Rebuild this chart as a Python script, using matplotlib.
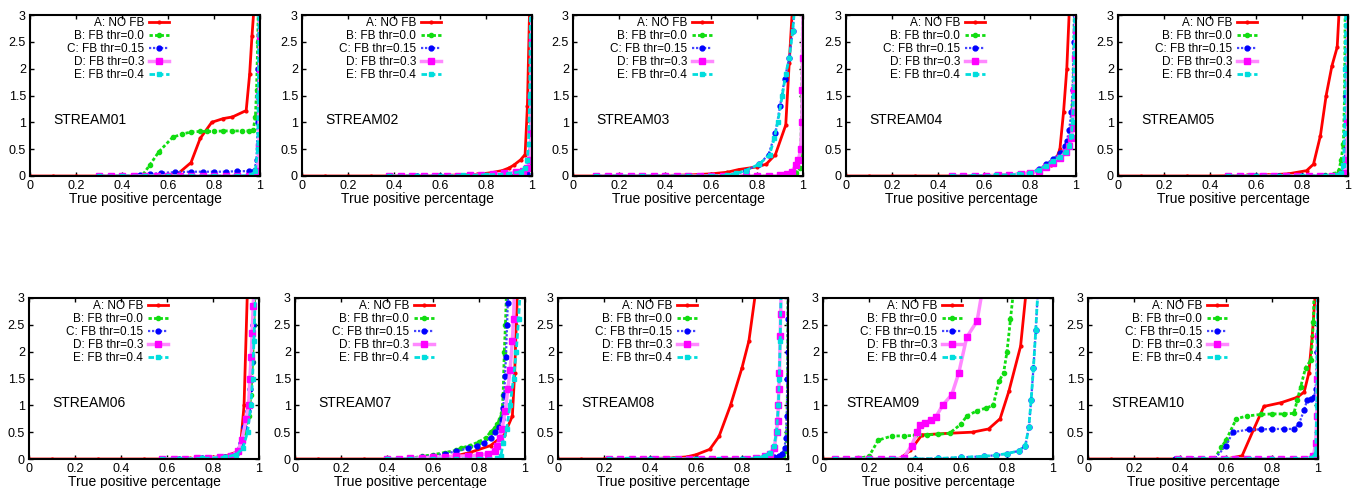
import matplotlib
matplotlib.use("Agg")
import matplotlib.pyplot as plt
from matplotlib.ticker import FuncFormatter

plt.rcParams['font.family'] = ['Liberation Sans', 'DejaVu Sans']

labels = ["A: NO FB", "B: FB thr=0.0", "C: FB thr=0.15", "D: FB thr=0.3", "E: FB thr=0.4"]
names = ["STREAM01", "STREAM02", "STREAM03", "STREAM04", "STREAM05",
         "STREAM06", "STREAM07", "STREAM08", "STREAM09", "STREAM10"]
xticks = [0, 0.2, 0.4, 0.6, 0.8, 1]
yticks = [0, 0.5, 1, 1.5, 2, 2.5, 3]

# STREAM01
s01_a = [(0,0),(0.1,0),(0.2,0),(0.3,0),(0.4,0),(0.5,0),(0.58,0),(0.64,0.03),(0.7,0.25),(0.74,0.7),(0.79,1.0),(0.84,1.07),(0.88,1.1),(0.94,1.22),(0.955,1.9),(0.965,2.6),(0.975,3.2)]
s01_b = [(0.3,0),(0.4,0),(0.45,0),(0.49,0.02),(0.52,0.2),(0.56,0.45),(0.62,0.72),(0.66,0.78),(0.7,0.82),(0.74,0.83),(0.77,0.83),(0.8,0.83),(0.84,0.84),(0.88,0.84),(0.92,0.84),(0.95,0.84),(0.97,0.85),(0.98,1.1),(0.985,1.6),(0.99,2.5),(0.993,3.2)]
s01_c = [(0.3,0),(0.4,0),(0.48,0.01),(0.52,0.03),(0.57,0.06),(0.63,0.07),(0.7,0.08),(0.75,0.08),(0.8,0.08),(0.85,0.08),(0.9,0.09),(0.95,0.09),(0.975,0.1),(0.985,0.3),(0.99,1.0),(0.993,2.0),(0.995,3.2)]
s01_d = [(0.3,0),(0.35,0),(0.4,0),(0.45,0),(0.5,0),(0.55,0),(0.6,0),(0.65,0),(0.7,0),(0.75,0),(0.8,0),(0.85,0),(0.9,0),(0.95,0),(0.98,0.01),(0.99,0.1),(0.995,0.55),(0.997,1.5),(0.998,2.0),(0.999,2.6),(1.0,3.2)]
s01_e = [(0.3,0),(0.4,0),(0.5,0),(0.6,0),(0.7,0),(0.8,0),(0.9,0),(0.96,0.01),(0.98,0.1),(0.99,0.5),(0.993,1.5),(0.996,3.2)]

# STREAM02
s02_a = [(0,0),(0.1,0),(0.2,0),(0.3,0),(0.4,0),(0.5,0),(0.6,0.01),(0.7,0.02),(0.76,0.03),(0.82,0.06),(0.87,0.1),(0.9,0.15),(0.92,0.2),(0.95,0.3),(0.97,0.4),(0.98,1.3),(0.99,3.2)]
s02_b = [(0.38,0),(0.5,0),(0.6,0),(0.7,0),(0.8,0.01),(0.9,0.02),(0.96,0.03),(0.98,0.05),(0.99,0.2),(0.995,1.0),(0.998,3.2)]
s02_c = [(0.38,0),(0.5,0),(0.6,0),(0.7,0),(0.8,0),(0.9,0.01),(0.96,0.02),(0.98,0.04),(0.99,0.15),(0.995,0.8),(0.998,3.2)]
s02_d = [(0.38,0),(0.43,0),(0.48,0),(0.53,0),(0.58,0),(0.63,0),(0.68,0),(0.73,0.01),(0.78,0.02),(0.83,0.03),(0.88,0.05),(0.93,0.07),(0.96,0.1),(0.98,0.15),(0.99,0.3),(0.995,0.8),(0.997,1.5),(0.998,2.5),(1.0,3.2)]
s02_e = [(0.38,0),(0.5,0),(0.6,0),(0.7,0.01),(0.8,0.02),(0.9,0.04),(0.95,0.08),(0.97,0.15),(0.98,0.3),(0.985,0.6),(0.99,1.5),(0.993,3.2)]

# STREAM03
s03_a = [(0,0),(0.1,0),(0.2,0),(0.3,0),(0.4,0.01),(0.51,0.02),(0.6,0.04),(0.67,0.07),(0.72,0.12),(0.8,0.17),(0.84,0.22),(0.88,0.4),(0.925,0.95),(0.94,2.1),(0.955,3.2)]
s03_b = [(0.1,0),(0.3,0),(0.5,0),(0.7,0),(0.85,0),(0.93,0.01),(0.97,0.05),(0.985,0.15),(0.99,0.4),(0.995,1.5),(0.998,3.2)]
s03_c = [(0.1,0),(0.3,0),(0.5,0),(0.6,0),(0.7,0.02),(0.75,0.1),(0.81,0.22),(0.85,0.4),(0.88,0.8),(0.9,1.3),(0.92,1.8),(0.94,2.2),(0.955,2.7),(0.965,3.2)]
s03_d = [(0.1,0),(0.15,0),(0.2,0),(0.25,0),(0.3,0),(0.35,0),(0.4,0),(0.45,0),(0.5,0),(0.55,0),(0.6,0),(0.65,0),(0.7,0),(0.75,0),(0.8,0),(0.85,0),(0.9,0.01),(0.93,0.03),(0.95,0.08),(0.97,0.2),(0.98,0.3),(0.99,0.5),(0.995,1.0),(0.997,1.6),(0.998,2.2),(1.0,3.2)]
s03_e = [(0.1,0),(0.3,0),(0.5,0),(0.6,0),(0.67,0.01),(0.71,0.05),(0.75,0.1),(0.81,0.22),(0.855,0.4),(0.875,0.7),(0.89,1.0),(0.91,1.5),(0.925,1.9),(0.94,2.2),(0.955,2.7),(0.965,3.2)]

# STREAM04
s04_a = [(0,0),(0.1,0),(0.2,0),(0.3,0),(0.4,0),(0.5,0),(0.6,0.01),(0.71,0.02),(0.8,0.06),(0.845,0.1),(0.89,0.2),(0.917,0.35),(0.93,0.5),(0.946,1.2),(0.96,2.0),(0.972,3.2)]
s04_b = [(0.46,0),(0.55,0),(0.65,0.01),(0.75,0.03),(0.8,0.05),(0.84,0.12),(0.87,0.2),(0.9,0.3),(0.93,0.4),(0.955,0.5),(0.97,0.65),(0.98,0.9),(0.985,1.3),(0.99,2.0),(0.993,3.2)]
s04_c = [(0.46,0),(0.55,0),(0.65,0.01),(0.75,0.03),(0.8,0.06),(0.84,0.13),(0.87,0.22),(0.9,0.32),(0.93,0.42),(0.95,0.55),(0.96,0.65),(0.97,0.85),(0.98,1.2),(0.985,1.6),(0.99,2.5),(0.993,3.2)]
s04_d = [(0.46,0),(0.51,0),(0.56,0),(0.61,0),(0.66,0.01),(0.71,0.02),(0.76,0.03),(0.8,0.05),(0.84,0.1),(0.87,0.16),(0.9,0.25),(0.93,0.33),(0.955,0.45),(0.97,0.55),(0.98,0.7),(0.985,0.9),(0.99,1.2),(0.993,1.6),(0.996,2.2),(0.998,2.7),(1.0,3.2)]
s04_e = [(0.46,0),(0.55,0),(0.65,0.01),(0.75,0.03),(0.8,0.05),(0.84,0.12),(0.87,0.19),(0.9,0.28),(0.93,0.36),(0.955,0.45),(0.97,0.55),(0.98,0.75),(0.985,1.0),(0.99,1.5),(0.995,3.2)]

# STREAM05
s05_a = [(0,0),(0.1,0),(0.2,0),(0.3,0),(0.4,0),(0.5,0.005),(0.56,0.01),(0.65,0.02),(0.74,0.04),(0.82,0.1),(0.85,0.22),(0.88,0.75),(0.905,1.5),(0.93,2.05),(0.953,2.4),(0.963,3.2)]
s05_b = [(0.48,0),(0.6,0),(0.7,0),(0.8,0),(0.9,0.01),(0.94,0.03),(0.96,0.1),(0.97,0.3),(0.98,0.6),(0.985,1.5),(0.988,3.2)]
s05_c = [(0.48,0),(0.6,0),(0.7,0),(0.8,0),(0.9,0),(0.96,0.01),(0.98,0.05),(0.99,0.5),(0.993,1.5),(0.995,3.2)]
s05_d = [(0.48,0),(0.53,0),(0.58,0),(0.63,0),(0.68,0),(0.73,0),(0.78,0),(0.83,0),(0.88,0),(0.93,0),(0.97,0.01),(0.99,0.05),(0.995,0.3),(0.997,1.0),(0.998,2.0),(1.0,3.2)]
s05_e = [(0.48,0),(0.6,0),(0.7,0),(0.8,0),(0.9,0),(0.95,0.01),(0.97,0.05),(0.98,0.2),(0.985,0.8),(0.988,2.0),(0.99,3.2)]

# STREAM06
s06_a = [(0,0),(0.1,0),(0.2,0),(0.3,0),(0.4,0),(0.5,0),(0.6,0),(0.7,0.01),(0.8,0.03),(0.85,0.05),(0.91,0.14),(0.92,0.26),(0.935,1.0),(0.95,3.2)]
s06_b = [(0.58,0),(0.65,0),(0.75,0.01),(0.85,0.03),(0.9,0.1),(0.92,0.25),(0.94,0.5),(0.955,0.8),(0.965,1.2),(0.972,1.8),(0.978,2.5),(0.982,3.2)]
s06_c = [(0.58,0),(0.65,0),(0.75,0.01),(0.85,0.03),(0.9,0.1),(0.92,0.3),(0.935,0.6),(0.95,0.9),(0.96,1.3),(0.968,1.8),(0.975,2.5),(0.98,3.2)]
s06_d = [(0.58,0),(0.63,0),(0.68,0),(0.73,0.01),(0.78,0.02),(0.83,0.03),(0.88,0.06),(0.91,0.15),(0.925,0.35),(0.945,0.75),(0.955,1.0),(0.96,1.5),(0.966,1.9),(0.97,2.35),(0.975,2.85),(0.978,3.2)]
s06_e = [(0.58,0),(0.65,0),(0.75,0.01),(0.85,0.03),(0.9,0.08),(0.93,0.2),(0.95,0.5),(0.965,1.0),(0.972,1.5),(0.978,2.2),(0.985,3.2)]

# STREAM07
s07_a = [(0,0),(0.1,0),(0.2,0),(0.3,0),(0.4,0),(0.5,0.005),(0.62,0.02),(0.7,0.06),(0.76,0.12),(0.85,0.25),(0.91,0.45),(0.945,0.8),(0.955,1.6),(0.962,2.5),(0.968,3.2)]
s07_b = [(0.4,0),(0.5,0.01),(0.55,0.05),(0.6,0.08),(0.65,0.12),(0.7,0.16),(0.72,0.2),(0.76,0.25),(0.8,0.32),(0.83,0.4),(0.85,0.5),(0.87,0.58),(0.88,0.65),(0.89,0.75),(0.9,0.85),(0.905,1.2),(0.91,2.0),(0.915,2.5),(0.92,3.2)]
s07_c = [(0.4,0),(0.5,0.01),(0.55,0.03),(0.6,0.06),(0.65,0.1),(0.7,0.14),(0.75,0.2),(0.79,0.25),(0.82,0.3),(0.85,0.4),(0.87,0.5),(0.885,0.6),(0.9,0.75),(0.905,0.95),(0.91,1.2),(0.913,1.55),(0.917,1.9),(0.922,2.5),(0.925,2.9),(0.928,3.2)]
s07_d = [(0.4,0),(0.45,0),(0.5,0.01),(0.55,0.02),(0.6,0.03),(0.65,0.04),(0.7,0.05),(0.75,0.06),(0.8,0.07),(0.84,0.1),(0.87,0.15),(0.88,0.25),(0.89,0.4),(0.9,0.55),(0.915,0.9),(0.925,1.3),(0.935,1.65),(0.945,2.2),(0.95,2.6),(0.955,3.2)]
s07_e = [(0.4,0),(0.5,0),(0.6,0),(0.7,0),(0.8,0),(0.88,0.01),(0.895,0.05),(0.905,0.3),(0.92,0.55),(0.935,1.0),(0.95,1.5),(0.962,2.0),(0.972,2.6),(0.98,3.2)]

# STREAM08
s08_a = [(0,0),(0.1,0),(0.2,0),(0.3,0),(0.4,0.01),(0.5,0.02),(0.56,0.04),(0.6,0.08),(0.66,0.18),(0.7,0.42),(0.75,1.0),(0.8,1.7),(0.83,2.2),(0.862,3.2)]
s08_b = [(0.22,0),(0.4,0),(0.6,0),(0.8,0),(0.9,0.01),(0.95,0.02),(0.98,0.05),(0.99,0.15),(0.995,0.5),(0.998,1.5),(1.0,3.2)]
s08_c = [(0.22,0),(0.4,0),(0.6,0),(0.8,0),(0.9,0.01),(0.94,0.04),(0.96,0.06),(0.975,0.1),(0.985,0.2),(0.99,0.4),(0.995,0.8),(0.997,1.5),(0.998,2.0),(0.999,2.6),(1.0,3.2)]
s08_d = [(0.22,0),(0.27,0),(0.32,0),(0.37,0),(0.42,0),(0.47,0),(0.52,0),(0.57,0),(0.62,0),(0.67,0),(0.72,0),(0.77,0),(0.82,0),(0.86,0.01),(0.9,0.05),(0.92,0.1),(0.94,0.2),(0.95,0.5),(0.955,0.7),(0.958,1.0),(0.96,1.3),(0.963,1.6),(0.966,2.3),(0.968,2.7),(0.97,3.2)]
s08_e = [(0.22,0),(0.3,0),(0.4,0),(0.5,0),(0.6,0),(0.7,0),(0.8,0),(0.86,0.01),(0.9,0.06),(0.92,0.12),(0.94,0.25),(0.95,0.5),(0.958,1.0),(0.962,1.5),(0.966,2.2),(0.97,3.2)]

# STREAM09
s09_a = [(0,0),(0.1,0),(0.2,0),(0.3,0),(0.335,0.01),(0.38,0.16),(0.43,0.45),(0.55,0.48),(0.65,0.5),(0.72,0.56),(0.77,0.75),(0.808,1.26),(0.859,2.1),(0.885,3.2)]
s09_b = [(0.05,0),(0.1,0),(0.15,0.01),(0.2,0.05),(0.24,0.35),(0.3,0.43),(0.35,0.43),(0.4,0.44),(0.45,0.45),(0.5,0.46),(0.55,0.48),(0.6,0.65),(0.625,0.8),(0.67,0.9),(0.71,0.95),(0.74,1.0),(0.765,1.45),(0.785,1.6),(0.8,2.0),(0.815,2.6),(0.83,3.2)]
s09_c = [(0.05,0),(0.2,0),(0.3,0),(0.4,0),(0.5,0.01),(0.6,0.03),(0.7,0.05),(0.75,0.07),(0.8,0.1),(0.85,0.15),(0.88,0.25),(0.895,0.6),(0.905,1.1),(0.915,1.7),(0.925,2.4),(0.935,3.2)]
s09_d = [(0.05,0),(0.1,0),(0.15,0),(0.2,0),(0.25,0),(0.3,0),(0.35,0.02),(0.385,0.25),(0.41,0.5),(0.42,0.63),(0.445,0.68),(0.47,0.72),(0.49,0.78),(0.52,1.0),(0.56,1.2),(0.59,1.6),(0.625,2.27),(0.67,2.57),(0.695,3.2)]
s09_e = [(0.05,0),(0.2,0),(0.3,0),(0.4,0),(0.5,0.01),(0.6,0.03),(0.7,0.05),(0.75,0.07),(0.8,0.1),(0.85,0.15),(0.88,0.25),(0.895,0.6),(0.905,1.1),(0.915,1.7),(0.925,2.4),(0.935,3.2)]

# STREAM10
s10_a = [(0,0),(0.1,0),(0.2,0),(0.3,0),(0.4,0),(0.5,0),(0.6,0),(0.67,0.06),(0.72,0.55),(0.765,0.98),(0.84,1.05),(0.91,1.15),(0.94,1.25),(0.96,1.6),(0.975,2.3),(0.99,3.2)]
s10_b = [(0.38,0),(0.45,0),(0.55,0),(0.58,0.22),(0.6,0.35),(0.645,0.75),(0.69,0.8),(0.75,0.83),(0.8,0.84),(0.85,0.84),(0.895,0.85),(0.91,1.1),(0.925,1.35),(0.946,1.7),(0.97,1.85),(0.98,2.55),(0.983,3.2)]
s10_c = [(0.38,0),(0.45,0),(0.55,0),(0.6,0.25),(0.63,0.5),(0.7,0.55),(0.75,0.55),(0.8,0.56),(0.85,0.56),(0.895,0.56),(0.917,0.65),(0.94,0.92),(0.953,1.1),(0.97,1.12),(0.983,1.15),(0.99,1.3),(0.995,2.0),(1.0,3.2)]
s10_d = [(0.39,0),(0.44,0),(0.49,0),(0.54,0),(0.59,0),(0.64,0),(0.69,0),(0.74,0),(0.79,0),(0.84,0),(0.89,0),(0.94,0),(0.98,0.05),(0.99,0.3),(0.995,0.8),(0.997,1.5),(0.998,2.3),(1.0,3.2)]
s10_e = [(0.39,0),(0.5,0),(0.6,0),(0.7,0),(0.8,0),(0.9,0),(0.97,0.01),(0.99,0.1),(0.995,1.0),(0.998,3.2)]

streams = [
    [s01_a, s01_b, s01_c, s01_d, s01_e],
    [s02_a, s02_b, s02_c, s02_d, s02_e],
    [s03_a, s03_b, s03_c, s03_d, s03_e],
    [s04_a, s04_b, s04_c, s04_d, s04_e],
    [s05_a, s05_b, s05_c, s05_d, s05_e],
    [s06_a, s06_b, s06_c, s06_d, s06_e],
    [s07_a, s07_b, s07_c, s07_d, s07_e],
    [s08_a, s08_b, s08_c, s08_d, s08_e],
    [s09_a, s09_b, s09_c, s09_d, s09_e],
    [s10_a, s10_b, s10_c, s10_d, s10_e],
]

# gnuplot-ish line styles for A..E
styles = [
    dict(color='#ff0000', lw=2.0, ls='-', marker='o', ms=2, mfc='#ff0000', mec='#ff0000'),
    dict(color='#11dd11', lw=2.0, ls=(0, (1.2, 0.8)), marker='o', ms=3, mfc='#11dd11', mec='#11dd11'),
    dict(color='#4444ff', lw=1.6, ls=(0, (1, 0.8)), marker='o', ms=3.5, mfc='#0000ff', mec='#0000ff'),
    dict(color='#ff88ff', lw=2.5, ls='-', marker='s', ms=4.5, mfc='#ff00ff', mec='#ff00ff'),
    dict(color='#00dddd', lw=2.0, ls=(0, (2, 1)), marker='s', ms=2.5, mfc='#00dddd', mec='#00dddd'),
]

# axes boxes in pixels: (left, top) ; size 230 x 161
W, H = 1352, 488
boxes = [(30, 15), (302, 15), (573, 15), (846, 15), (1118, 15),
         (29, 298), (295, 298), (558, 298), (823, 298), (1088, 298)]
aw, ah = 230, 161

fig = plt.figure(figsize=(W / 100, H / 100), dpi=100)

for i in range(10):
    left, top = boxes[i]
    ax = fig.add_axes([left / W, 1 - (top + ah) / H, aw / W, ah / H])
    for j in range(5):
        xs = [p[0] for p in streams[i][j]]
        ys = [p[1] for p in streams[i][j]]
        ax.plot(xs, ys, label=labels[j], **styles[j])
    ax.set_xlim(0, 1)
    ax.set_ylim(0, 3)
    ax.set_xticks(xticks)
    ax.set_yticks(yticks)
    fmt = FuncFormatter(lambda v, p: '%g' % v)
    ax.xaxis.set_major_formatter(fmt)
    ax.yaxis.set_major_formatter(fmt)
    ax.tick_params(direction='in', length=3, width=1, top=True, right=True,
                   labelsize=9, pad=3)
    for sp in ax.spines.values():
        sp.set_linewidth(1.5)
    ax.set_xlabel('True positive percentage', fontsize=10, labelpad=0)
    ax.text(0.1, 1.05, names[i], transform=ax.get_yaxis_transform(),
            fontsize=10, ha='left', va='center')
    ax.legend(loc='upper right', bbox_to_anchor=(0.615, 1.0), frameon=False,
              markerfirst=False, fontsize=8.5, handlelength=1.7,
              handletextpad=0.4, labelspacing=0.08, borderpad=0.2,
              borderaxespad=0, numpoints=1)

fig.savefig('out.png', dpi=100)
